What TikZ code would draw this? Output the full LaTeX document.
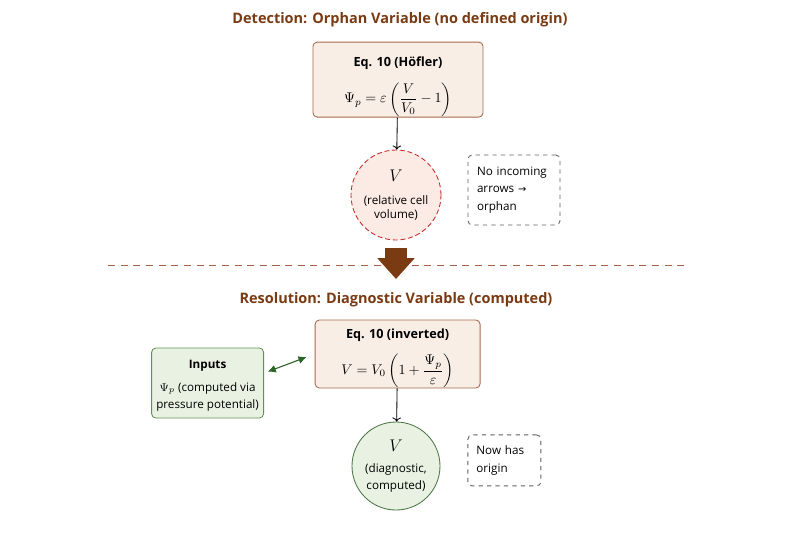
\documentclass[tikz,border=0pt]{standalone}
\usepackage{amsmath}
\usepackage{fontspec}
\setmainfont{Open Sans}
\newfontfamily\symfont{DejaVu Sans}
\usetikzlibrary{arrows.meta}
\definecolor{headbrown}{RGB}{122,58,18}
\definecolor{eqfill}{RGB}{248,238,230}
\definecolor{eqdraw}{RGB}{165,105,75}
\definecolor{orphanfill}{RGB}{252,234,228}
\definecolor{orphandraw}{RGB}{200,40,40}
\definecolor{okfill}{RGB}{233,242,226}
\definecolor{okdraw}{RGB}{95,145,85}
\definecolor{arrowgreen}{RGB}{45,100,40}
\definecolor{notegray}{RGB}{95,95,95}
\definecolor{sepbrown}{RGB}{165,95,70}
\tikzstyle{heading}=[font=\fontsize{10.3}{12}\selectfont\bfseries,text=headbrown]
\tikzstyle{eqbox}=[shape=rectangle,rounded corners=3pt,draw=eqdraw,fill=eqfill,align=center,inner ysep=0pt,font=\fontsize{9}{11}\selectfont,line width=0.6pt]
\tikzstyle{inputbox}=[shape=rectangle,rounded corners=3pt,draw=okdraw,fill=okfill,align=center,font=\fontsize{8.3}{12.2}\selectfont,line width=0.6pt]
\tikzstyle{orphan}=[shape=circle,draw=orphandraw,fill=orphanfill,dash pattern=on 3.5pt off 2pt,align=center,inner sep=0pt,minimum size=2.25cm,font=\fontsize{8.3}{9.8}\selectfont,line width=0.6pt]
\tikzstyle{diag}=[shape=circle,draw=okdraw!80!black,fill=okfill,align=center,inner sep=0pt,minimum size=2.2cm,font=\fontsize{8.3}{12}\selectfont,line width=0.6pt]
\tikzstyle{note}=[shape=rectangle,rounded corners=3pt,draw=notegray,dashed,align=left,font=\fontsize{8.3}{12.5}\selectfont,line width=0.6pt]
\tikzstyle{flow}=[-{Latex[length=2.2mm,width=2mm]},black,line width=0.6pt]

\begin{document}
\begin{tikzpicture}[]
\useasboundingbox (0,0) rectangle (20,-13.325);
% detection
\node[heading] (title1) at (10,-0.5) {Detection: Orphan Variable (no defined origin)};
\node[eqbox,minimum width=4.25cm,minimum height=1.875cm] (eq1) at (9.95,-1.99)
    {\rule{0pt}{17pt}\textbf{Eq. 10 (Höfler)}\\[8pt]{\fontsize{10}{12}\selectfont$\displaystyle\Psi_p=\varepsilon\left(\frac{V}{V_0}-1\right)$}};
\node[orphan] (v1) at (9.9,-4.875)
    {\rule{0pt}{6pt}{\fontsize{13}{14}\selectfont$V$}\\[7pt](relative cell\\volume)}
    edge [flow,<-,shorten <=0pt] (eq1);
\node[note,minimum width=2.3cm,minimum height=1.75cm,text width=1.85cm] (note1) at (12.85,-4.75)
    {No incoming\\arrows {\symfont\fontsize{7}{10}\selectfont →}\\orphan};
% separator
\coordinate (sepl) at (2.7,-6.625);
\coordinate (sepr) at (17.2,-6.625);
\draw[sepbrown,dash pattern=on 5pt off 4pt,line width=0.7pt] (sepl) -- (sepr);
% resolution
\node[heading] (title2) at (9.9,-7.5) {Resolution: Diagnostic Variable (computed)};
\draw[headbrown,line width=0.57cm,-{Triangle[length=0.52cm,width=0.9cm]},shorten <=0.2cm,shorten >=0.22cm]
    (v1.south) -- (title2.north);
\node[eqbox,minimum width=4.125cm,minimum height=1.7cm] (eq2) at (9.94,-8.85)
    {\rule{0pt}{13pt}\textbf{Eq. 10 (inverted)}\\[8pt]{\fontsize{10}{12}\selectfont$\displaystyle V=V_0\left(1+\frac{\Psi_p}{\varepsilon}\right)$}};
\node[inputbox,minimum width=2.775cm,minimum height=1.75cm] (inputs) at (5.19,-9.575)
    {\rule{0pt}{10pt}\textbf{Inputs}\\[4pt]$\Psi_p$ (computed via\\pressure potential)};
\draw[{Latex[length=2mm,width=2mm]}-{Latex[length=2mm,width=2mm]},arrowgreen,line width=0.8pt,shorten <=0.1cm,shorten >=0.22cm]
    (inputs.10) -- (eq2.west);
\node[diag] (v2) at (9.9,-11.65)
    {{\fontsize{13}{14}\selectfont$V$}\\[3pt](diagnostic,\\computed)}
    edge [flow,<-] (eq2);
\node[note,minimum width=1.825cm,minimum height=1.275cm,text width=1.4cm] (note2) at (12.61,-11.51)
    {Now has\\origin};
\end{tikzpicture}
\end{document}
